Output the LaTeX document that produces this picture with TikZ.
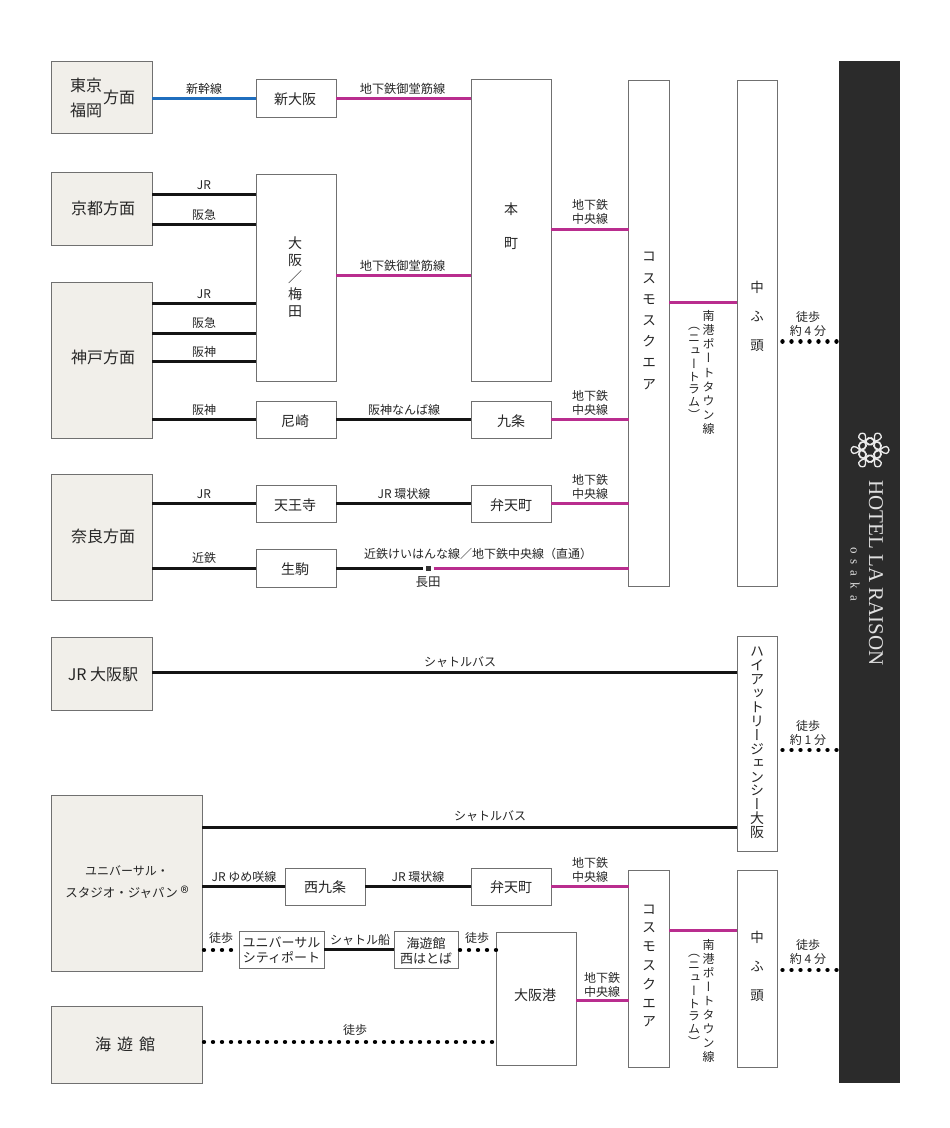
\documentclass[tikz,border=0pt]{standalone}
\usepackage{fontspec}
\setmainfont{Noto Sans CJK JP}
\newfontfamily\vf[RawFeature={+vert}]{Noto Sans CJK JP}
\newfontfamily\hotelfont{Liberation Serif}
\definecolor{beigefill}{HTML}{F1EFEA}
\definecolor{edgegray}{HTML}{707070}
\definecolor{pinkline}{HTML}{B92D8E}
\definecolor{blueline}{HTML}{1F6EBE}
\definecolor{blackline}{HTML}{141414}
\definecolor{barcolor}{HTML}{2B2B2B}
\tikzset{
  boxbase/.style={rectangle,draw=edgegray,line width=0.8pt,inner sep=0pt,outer sep=0pt,align=center,text=black!85},
  origin box/.style={boxbase,fill=beigefill},
  station box/.style={boxbase,fill=white},
  lineblack/.style={draw=blackline,line width=2.5pt},
  linepink/.style={draw=pinkline,line width=2.5pt},
  lineblue/.style={draw=blueline,line width=2.5pt},
  linedots/.style={draw=black,line width=4.4pt,line cap=round,dash pattern=on 0.01pt off 8.99pt},
  lab/.style={inner sep=0pt,outer sep=0pt,align=center,text=black!85},
}
\newcounter{tn}
% name, style, x1, y1, x2, y2, text
\newcommand\bx[7]{%
  \pgfmathsetmacro\bw{#5-#3}\pgfmathsetmacro\bh{#6-#4}%
  \pgfmathsetmacro\bcx{(#3+#5)/2}\pgfmathsetmacro\bcy{(#4+#6)/2}%
  \node[#2,minimum width=\bw pt,minimum height=\bh pt] (#1) at (\bcx,\bcy) {#7};}
% x, y, font size, text
\newcommand\tx[4]{\stepcounter{tn}%
  \pgfmathsetmacro\bls{#3+2}%
  \node[lab,font=\fontsize{#3}{\bls}\selectfont] (t\arabic{tn}) at (#1,#2) {#4};}
% x, y, size, line distance, lines
\newcommand\vt[5]{\stepcounter{tn}%
  \node[lab,font=\vf\fontsize{#3}{#4}\selectfont] (t\arabic{tn}) at (#1,#2) {#5};}
% left node, right node, y, style
\newcommand\conn[4]{\draw[#4] (#1.east |- 0,#3) -- (#2.west |- 0,#3);}
\begin{document}
\begin{tikzpicture}[x=1pt,y=-1pt]
\useasboundingbox (0,0) rectangle (950,1128);
\fill[white] (0,0) rectangle (950,1128);
% hotel bar
\bx{hotel}{rectangle,fill=barcolor,inner sep=0pt,outer sep=0pt}{839}{61}{900}{1083}{}
% origins
\bx{tokyo}{origin box}{51}{61}{152}{133}{}
\bx{kyoto}{origin box}{51}{172}{152}{245}{}
\bx{kobe}{origin box}{51}{282}{152}{438}{}
\bx{nara}{origin box}{51}{474}{152}{600}{}
\bx{jrosaka}{origin box}{51}{637}{152}{710}{}
\bx{usj}{origin box}{51}{795}{202}{971}{}
\bx{kaiyu}{origin box}{51}{1006}{202}{1083}{}
% stations
\bx{shinosaka}{station box}{256}{79.5}{336}{117}{}
\bx{umeda}{station box}{256}{174}{336}{381}{}
\bx{amagasaki}{station box}{256}{401}{336}{438}{}
\bx{tennoji}{station box}{256}{485}{336}{522}{}
\bx{ikoma}{station box}{256}{549}{336}{587}{}
\bx{honmachi}{station box}{471}{79.5}{551}{381}{}
\bx{kujo}{station box}{471}{401}{551}{438}{}
\bx{bentencho}{station box}{471}{485}{551}{522}{}
\bx{cosmo}{station box}{628.5}{80}{669}{586}{}
\bx{futo}{station box}{737}{80}{777.5}{586}{}
\bx{hyatt}{station box}{737}{636.5}{777.5}{851}{}
\bx{nishikujo}{station box}{285}{868}{365}{905}{}
\bx{benten2}{station box}{471}{868}{551}{905}{}
\bx{citywalk}{station box}{239.5}{931.5}{324}{968}{}
\bx{nishihatoba}{station box}{394}{931.5}{458}{968}{}
\bx{osakako}{station box}{496.5}{932}{576}{1065}{}
\bx{cosmo2}{station box}{628.5}{870}{669}{1067}{}
\bx{futo2}{station box}{737}{870}{777.5}{1067}{}
% connectors
\conn{tokyo}{shinosaka}{98.5}{lineblue}
\conn{shinosaka}{honmachi}{98.5}{linepink}
\conn{kyoto}{umeda}{194.5}{lineblack}
\conn{kyoto}{umeda}{224.5}{lineblack}
\conn{kobe}{umeda}{303.5}{lineblack}
\conn{kobe}{umeda}{333.5}{lineblack}
\conn{kobe}{umeda}{361.5}{lineblack}
\conn{umeda}{honmachi}{275.5}{linepink}
\conn{honmachi}{cosmo}{229.5}{linepink}
\conn{kobe}{amagasaki}{419.5}{lineblack}
\conn{amagasaki}{kujo}{419.5}{lineblack}
\conn{kujo}{cosmo}{419.5}{linepink}
\conn{nara}{tennoji}{503.5}{lineblack}
\conn{tennoji}{bentencho}{503.5}{lineblack}
\conn{bentencho}{cosmo}{503.5}{linepink}
\conn{nara}{ikoma}{568.5}{lineblack}
\node[rectangle,fill=black!80,minimum size=5pt,inner sep=0pt,outer sep=0pt] (nagata) at (428,568.5) {};
\draw[lineblack] (ikoma.east |- nagata) -- ([xshift=-3pt]nagata.west);
\draw[linepink] ([xshift=3pt]nagata.east) -- (cosmo.west |- nagata);
\conn{cosmo}{futo}{302.5}{linepink}
\conn{jrosaka}{hyatt}{672.5}{lineblack}
\conn{usj}{hyatt}{827.5}{lineblack}
\conn{usj}{nishikujo}{886.5}{lineblack}
\conn{nishikujo}{benten2}{886.5}{lineblack}
\conn{benten2}{cosmo2}{886.5}{linepink}
\conn{citywalk}{nishihatoba}{949.5}{lineblack}
\conn{osakako}{cosmo2}{1000.5}{linepink}
\conn{cosmo2}{futo2}{930.5}{linepink}
\draw[linedots] ([xshift=2pt]usj.east |- 0,950) -- (citywalk.west |- 0,950);
\draw[linedots] ([xshift=2pt]nishihatoba.east |- 0,950) -- (osakako.west |- 0,950);
\draw[linedots] ([xshift=2pt]kaiyu.east |- 0,1042) -- (osakako.west |- 0,1042);
\draw[linedots] ([xshift=5pt]futo.east |- 0,341.5) -- ([xshift=-2pt]hotel.west |- 0,341.5);
\draw[linedots] ([xshift=5pt]hyatt.east |- 0,750) -- ([xshift=-2pt]hotel.west |- 0,750);
\draw[linedots] ([xshift=5pt]futo2.east |- 0,970) -- ([xshift=-2pt]hotel.west |- 0,970);
% origin labels
\tx{86}{85}{16}{東京}
\tx{86}{110}{16}{福岡}
\tx{119}{97}{16}{方面}
\tx{103}{208}{16}{京都方面}
\tx{103}{357}{16}{神戸方面}
\tx{103}{536}{16}{奈良方面}
\tx{103}{674}{16}{JR 大阪駅}
\tx{127}{871}{12}{ユニバーサル・}
\tx{127}{893}{12.5}{スタジオ・ジャパン {\fontsize{17}{17}\selectfont\raisebox{-2pt}{®}}}
\tx{125}{1044}{16}{海\hspace{6pt}遊\hspace{6pt}館}
% station labels
\tx{295}{99}{14}{新大阪}
\tx{295}{421}{14}{尼崎}
\tx{295}{505}{14}{天王寺}
\tx{295}{569}{14}{生駒}
\tx{511}{421}{14}{九条}
\tx{511}{505}{14}{弁天町}
\tx{325}{887}{14}{西九条}
\tx{511}{887}{14}{弁天町}
\tx{535}{995}{14}{大阪港}
\tx{281.5}{950}{13}{ユニバーサル\\シティポート}
\tx{426}{951}{13}{海遊館\\西はとば}
\tx{428}{582}{12.5}{長田}
\vt{511}{226}{14}{34}{本\\町}
\vt{295}{277}{14}{17}{大\\阪\\／\\梅\\田}
\vt{649}{321}{14}{21.2}{コ\\ス\\モ\\ス\\ク\\エ\\ア}
\vt{649}{966}{14}{18.8}{コ\\ス\\モ\\ス\\ク\\エ\\ア}
\vt{757}{316}{13.5}{29}{中\\ふ\\頭}
\vt{757}{966}{13.5}{29}{中\\ふ\\頭}
\vt{757}{743}{14}{13.9}{ハ\\イ\\ア\\ッ\\ト\\リ\\ー\\ジ\\ェ\\ン\\シ\\ー\\大\\阪}
\vt{708.5}{372.5}{12}{14.1}{南\\港\\ポ\\ー\\ト\\タ\\ウ\\ン\\線}
\vt{694}{373.5}{12}{12.9}{（\\ニ\\ュ\\ー\\ト\\ラ\\ム\\）}
\vt{708.5}{1001}{12}{14.1}{南\\港\\ポ\\ー\\ト\\タ\\ウ\\ン\\線}
\vt{694}{1000.5}{12}{12.9}{（\\ニ\\ュ\\ー\\ト\\ラ\\ム\\）}
% line labels
\tx{204}{89}{12}{新幹線}
\tx{402.5}{89}{12.2}{地下鉄御堂筋線}
\tx{204}{185}{12}{JR}
\tx{204}{215}{12}{阪急}
\tx{204}{294}{12}{JR}
\tx{204}{323}{12}{阪急}
\tx{204}{352}{12}{阪神}
\tx{204}{410}{12}{阪神}
\tx{204}{494}{12}{JR}
\tx{204}{558}{12}{近鉄}
\tx{402.5}{266}{12.2}{地下鉄御堂筋線}
\tx{404}{410}{12}{阪神なんば線}
\tx{404}{494}{12}{JR 環状線}
\tx{478}{554}{12}{近鉄けいはんな線／地下鉄中央線（直通）}
\tx{590}{212}{12}{地下鉄\\中央線}
\tx{590}{403}{12}{地下鉄\\中央線}
\tx{590}{487}{12}{地下鉄\\中央線}
\tx{590}{870}{12}{地下鉄\\中央線}
\tx{602}{985}{12}{地下鉄\\中央線}
\tx{460}{662}{12}{シャトルバス}
\tx{490}{816}{12}{シャトルバス}
\tx{244}{877}{12}{JR ゆめ咲線}
\tx{418}{877}{12}{JR 環状線}
\tx{221}{938}{12}{徒歩}
\tx{477}{938}{12}{徒歩}
\tx{360}{940}{12}{シャトル船}
\tx{355}{1030}{12}{徒歩}
\tx{808}{324}{12}{徒歩\\約 4 分}
\tx{808}{733}{12}{徒歩\\約 1 分}
\tx{808}{952}{12}{徒歩\\約 4 分}
% hotel name
\node[lab,rotate=-90,text=white!88!black,font=\hotelfont\fontsize{21}{24}\selectfont] (hname) at (876,573) {HOTEL LA RAISON};
\node[lab,rotate=-90,text=white!88!black,font=\hotelfont\fontsize{13}{14}\selectfont] (hcity) at (855,574) {o\hspace{6pt}s\hspace{6pt}a\hspace{6pt}k\hspace{6pt}a};
% logo
\foreach \a in {0,60,...,300}{
  \foreach \b in {0,120,240}{
    \draw[white!92!black,line width=1.3pt,shift={(870,450)},rotate=\a,shift={(10,0)},rotate=\b]
      (0,0) .. controls (6.5,6) and (8,3.2) .. (9,0) .. controls (8,-3.2) and (6.5,-6) .. (0,0);
  }
}
\end{tikzpicture}
\end{document}
